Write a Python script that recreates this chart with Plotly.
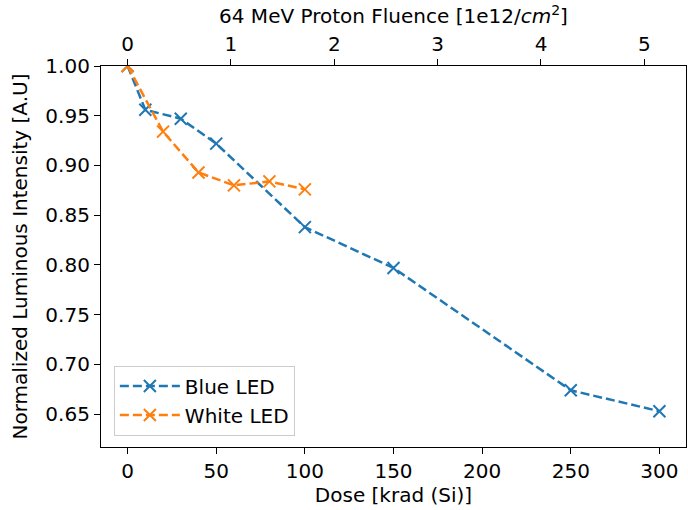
import plotly.graph_objects as go

# Data
blue_dose = [0, 10, 30, 50, 100, 150, 250, 300]
blue_val = [1.000, 0.956, 0.947, 0.922, 0.838, 0.797, 0.674, 0.653]
white_dose = [0, 20, 40, 60, 80, 100]
white_val = [1.000, 0.934, 0.893, 0.880, 0.884, 0.876]
fluence_ticks = [0, 1, 2, 3, 4, 5]
krad_per_fluence = 58.3  # dose per 1e12/cm^2 (top axis scale)
x_range = [-15, 315]
y_range = [0.617, 1.0]
y_ticks = [0.65, 0.70, 0.75, 0.80, 0.85, 0.90, 0.95, 1.00]
x_ticks = [0, 50, 100, 150, 200, 250, 300]

FONT = "DejaVu Sans"
FS = 20
BLUE = "#1f77b4"
ORANGE = "#ff7f0e"

fig = go.Figure()
fig.add_trace(go.Scatter(
    x=blue_dose, y=blue_val, name="Blue LED", mode="lines+markers",
    line=dict(color=BLUE, width=2.5, dash="9px,4px"),
    marker=dict(symbol="x-thin", size=12, line=dict(color=BLUE, width=2)),
))
fig.add_trace(go.Scatter(
    x=white_dose, y=white_val, name="White LED", mode="lines+markers",
    line=dict(color=ORANGE, width=2.5, dash="9px,4px"),
    marker=dict(symbol="x-thin", size=12, line=dict(color=ORANGE, width=2)),
))
# invisible carrier trace so the top axis renders
fig.add_trace(go.Scatter(
    x=fluence_ticks, y=[None] * len(fluence_ticks), xaxis="x2",
    showlegend=False, hoverinfo="skip", mode="lines",
))

axis_common = dict(
    showline=True, linecolor="black", linewidth=1.2,
    ticks="outside", ticklen=6, tickwidth=1.2, tickcolor="black",
    showgrid=False, zeroline=False,
    tickfont=dict(family=FONT, size=FS, color="black"),
)

fig.update_layout(
    width=688, height=510,
    margin=dict(l=101, r=2, t=66, b=63),
    paper_bgcolor="white", plot_bgcolor="white",
    font=dict(family=FONT, size=FS, color="black"),
    xaxis=dict(
        range=x_range, tickvals=x_ticks, mirror=False,
        title=dict(text="Dose [krad (Si)]", font=dict(family=FONT, size=FS), standoff=4),
        **axis_common,
    ),
    xaxis2=dict(
        overlaying="x", side="top",
        range=[x_range[0] / krad_per_fluence, x_range[1] / krad_per_fluence],
        tickvals=fluence_ticks,
        title=dict(text="64 MeV Proton Fluence [1e12/<i>cm</i><sup>2</sup>]",
                   font=dict(family=FONT, size=FS), standoff=2),
        **axis_common,
    ),
    yaxis=dict(
        range=y_range, tickvals=y_ticks, tickformat=".2f", mirror=True,
        title=dict(text="Normalized Luminous Intensity [A.U]", font=dict(family=FONT, size=FS), standoff=12),
        **axis_common,
    ),
    legend=dict(
        x=0.022, y=0.03, xanchor="left", yanchor="bottom",
        bgcolor="rgba(255,255,255,0.8)", bordercolor="#cccccc", borderwidth=1,
        font=dict(family=FONT, size=FS),
        itemwidth=60,
    ),
    showlegend=True,
)

fig.write_html("out.html")
